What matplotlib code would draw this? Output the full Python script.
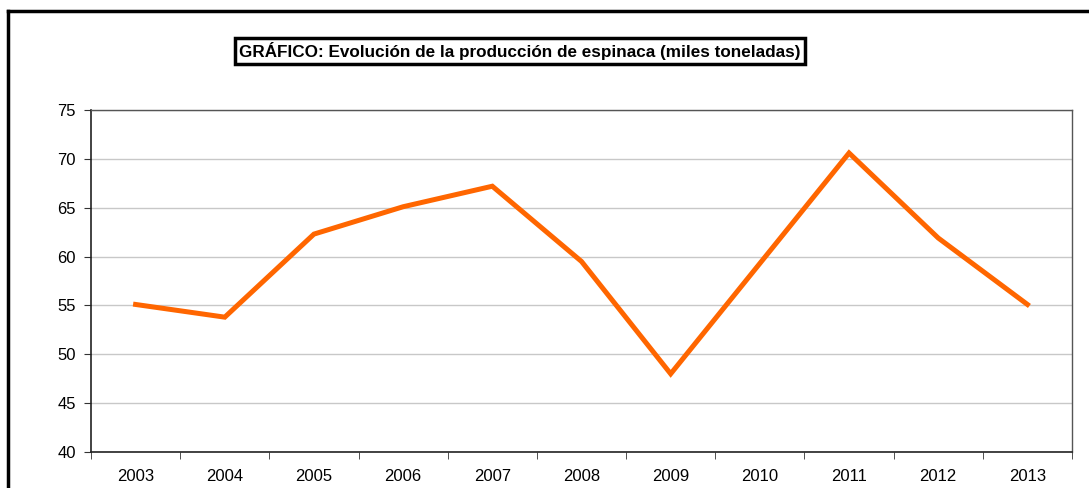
#!/usr/bin/env python3
# Evolucion de la produccion de espinaca - line chart

import numpy as np
import matplotlib
matplotlib.use("Agg")
import matplotlib.pyplot as plt
from matplotlib.lines import Line2D

# -------------------- DATA --------------------
years = ["2003", "2004", "2005", "2006", "2007", "2008",
         "2009", "2010", "2011", "2012", "2013"]
production = [55.1, 53.8, 62.3, 65.1, 67.2, 59.5,
              48.0, 59.3, 70.6, 61.9, 55.1]
y_ticks = [40, 45, 50, 55, 60, 65, 70, 75]
title = "GRÁFICO: Evolución de la producción de espinaca (miles toneladas)"
# ----------------------------------------------

plt.rcParams["font.family"] = ["Liberation Sans", "DejaVu Sans"]

fig = plt.figure(figsize=(10.89, 4.88), dpi=100)
ax = fig.add_axes([91 / 1089, 1 - 452 / 488, 981 / 1089, 342 / 488])

x = np.arange(len(years))
ax.plot(x, production, color="#FF6600", lw=3.6, solid_joinstyle="miter", zorder=3)

ax.set_xlim(-0.5, len(years) - 0.5)
ax.set_ylim(40, 75)
ax.set_yticks(y_ticks)
ax.set_yticklabels([str(v) for v in y_ticks], fontsize=12)
ax.yaxis.grid(True, color="#c8c8c8", lw=1)
ax.set_axisbelow(True)

ax.set_xticks(x)
ax.set_xticklabels(years, fontsize=12)
ax.set_xticks(np.arange(-0.5, len(years)), minor=True)
ax.tick_params(axis="x", which="major", length=0, pad=12)
ax.tick_params(axis="x", which="minor", length=5, color="#333333", direction="out")
ax.tick_params(axis="y", length=5, direction="out", color="#333333", pad=6)

for side in ["left", "bottom"]:
    ax.spines[side].set_color("#222222")
    ax.spines[side].set_linewidth(1.2)
for side in ["top", "right"]:
    ax.spines[side].set_color("#555555")
    ax.spines[side].set_linewidth(1.0)

# title in a box
fig.text(520 / 1089, 1 - 51 / 488, title, ha="center", va="center",
         fontsize=12.3, fontweight="bold",
         bbox=dict(boxstyle="square,pad=0.25", fc="white", ec="black", lw=2.5))

# outer frame (top and left edges visible)
fig.add_artist(Line2D([8 / 1089, 1.0], [1 - 11 / 488, 1 - 11 / 488],
                      transform=fig.transFigure, color="black", lw=2.5))
fig.add_artist(Line2D([8 / 1089, 8 / 1089], [0.0, 1 - 11 / 488],
                      transform=fig.transFigure, color="black", lw=2.5))

fig.savefig("out.png", dpi=100)
